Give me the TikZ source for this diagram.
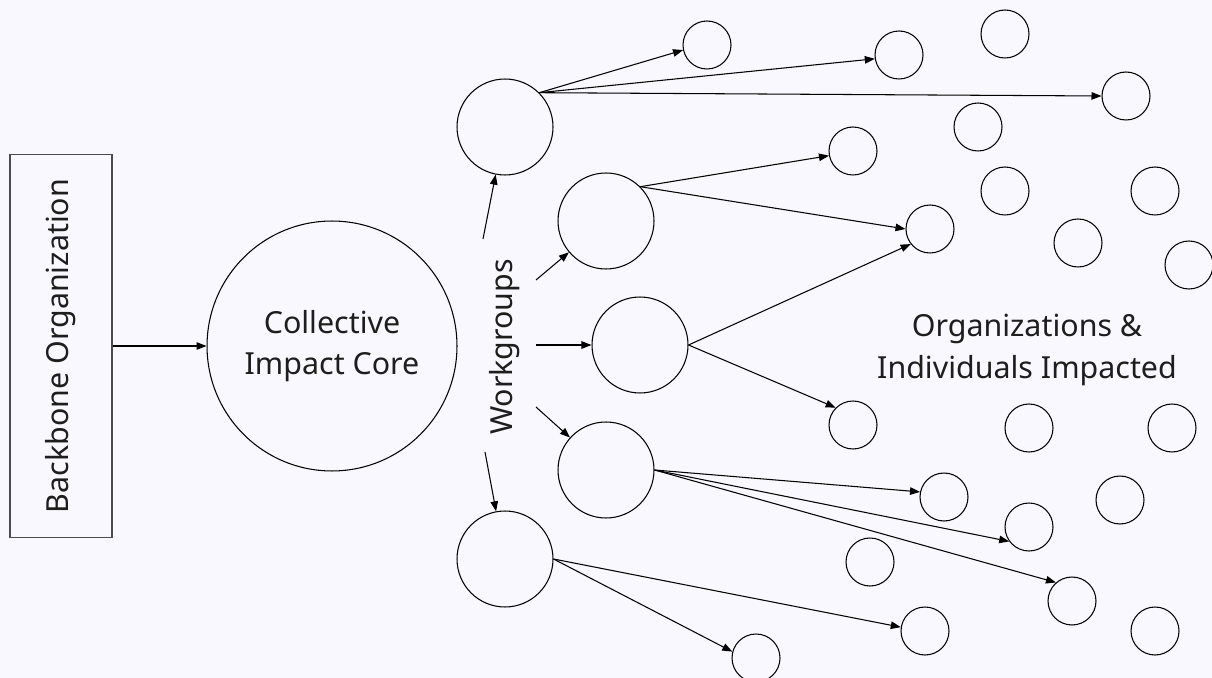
\documentclass[tikz,border=0pt]{standalone}
\usepackage{fontspec}
\setmainfont{Noto Sans}
\usetikzlibrary{arrows.meta}
\definecolor{bgcol}{HTML}{F8F8FE}
\definecolor{inkcol}{HTML}{1E1E1E}

\begin{document}
\begin{tikzpicture}
 [
  x=0.02cm, y=-0.02cm,
  >={Triangle[length=2mm, width=1.5mm]},
  every path/.style = {line width=.6pt},
  label/.style  = {text = inkcol, font = \fontsize{17.3}{23.5}\selectfont, align = center},
  core/.style   = {draw, circle, minimum size = 5cm, inner sep = 0pt},
  group/.style  = {draw, circle, minimum size = 1.92cm, inner sep = 0pt},
  member/.style = {draw, circle, minimum size = 0.96cm, inner sep = 0pt},
 ]

 % background and frame
 \fill[bgcol] (0,0) rectangle (1212,678);
 \useasboundingbox (0,0) rectangle (1212,678);

 % backbone and core
 \node (backbone) at (61,346) [draw = black!70, rotate = 90, minimum width = 7.66cm,
   minimum height = 2.04cm, label]{Backbone Organization};
 \node (core) at (332,346) [core, label]{Collective\\Impact Core};
 \draw[->] (backbone) -- (core);

 % workgroups
 \node (wg) at (505,347) [rotate = 90, label]{Workgroups};
 \node (W1) at (505,127) [group]{};
 \node (W2) at (606,221) [group]{};
 \node (W3) at (640,345) [group]{};
 \node (W4) at (606,470) [group]{};
 \node (W5) at (505,559) [group]{};

 \coordinate (s1) at (483,239);
 \coordinate (s2) at (536,280);
 \coordinate (s3) at (536,345);
 \coordinate (s4) at (536,407);
 \coordinate (s5) at (485,452);

 \draw[->] (s1) -- (W1);
 \draw[->] (s2) -- (W2);
 \draw[->] (s3) -- (W3);
 \draw[->] (s4) -- (W4);
 \draw[->] (s5) -- (W5);

 % organizations and individuals
 \node (impacted) at (1027,350) [label]{Organizations \&\\Individuals Impacted};

 \node (m1)  at (707,45)   [member]{};
 \node (m2)  at (899,55)   [member]{};
 \node (m3)  at (1005,34)  [member]{};
 \node (m4)  at (1126,96)  [member]{};
 \node (m5)  at (978,127)  [member]{};
 \node (m6)  at (853,151)  [member]{};
 \node (m7)  at (1005,191) [member]{};
 \node (m8)  at (1155,191) [member]{};
 \node (m9)  at (930,229)  [member]{};
 \node (m10) at (1078,243) [member]{};
 \node (m11) at (1189,265) [member]{};
 \node (m12) at (853,425)  [member]{};
 \node (m13) at (1029,428) [member]{};
 \node (m14) at (1172,428) [member]{};
 \node (m15) at (944,497)  [member]{};
 \node (m16) at (1120,500) [member]{};
 \node (m17) at (1029,527) [member]{};
 \node (m18) at (870,562)  [member]{};
 \node (m19) at (1072,601) [member]{};
 \node (m20) at (925,631)  [member]{};
 \node (m21) at (1155,631) [member]{};
 \node (m22) at (756,658)  [member]{};

 \draw[->] (W1.45) -- (m1.192);
 \draw[->] (W1.45) -- (m2.189);
 \draw[->] (W1.45) -- (m4.180);

 \draw[->] (W2.45) -- (m6.191);
 \draw[->] (W2.45) -- (m9.180);

 \draw[->] (W3.east) -- (m9.218);
 \draw[->] (W3.east) -- (m12.135);

 \draw[->] (W4.east) -- (m15.168);
 \draw[->] (W4.east) -- (m17.216);
 \draw[->] (W4.east) -- (m19.131);

 \draw[->] (W5.east) -- (m20.171);
 \draw[->] (W5.east) -- (m22.165);
\end{tikzpicture}
\end{document}
